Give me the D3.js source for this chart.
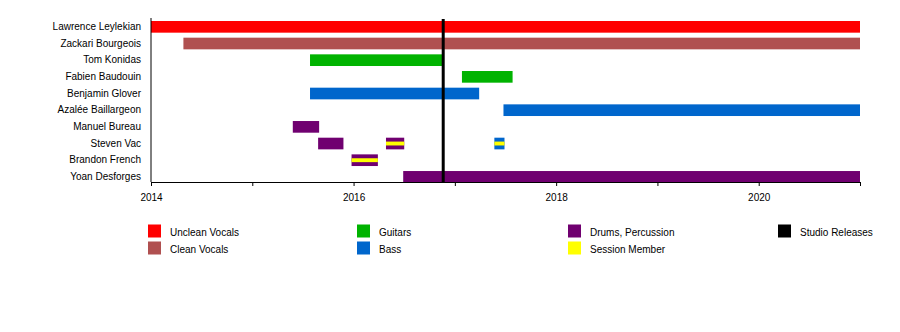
<!DOCTYPE html>
<html>
<head>
<meta charset="utf-8">
<script src="https://cdn.jsdelivr.net/npm/d3@7"></script>
<style>
  html, body { margin: 0; padding: 0; background: #fff; }
  svg { display: block; font-family: "Liberation Sans", Arial, sans-serif; }
</style>
</head>
<body>
<svg id="chart" width="900" height="332"></svg>
<script>
// Band members, top to bottom
const members = [
  "Lawrence Leylekian", "Zackari Bourgeois", "Tom Konidas", "Fabien Baudouin",
  "Benjamin Glover", "Azalée Baillargeon", "Manuel Bureau", "Steven Vac",
  "Brandon French", "Yoan Desforges"
];

// Roles and their colours
const roles = ["Unclean Vocals", "Clean Vocals", "Guitars", "Bass", "Drums, Percussion", "Session Member"];
const roleColors = ["#ff0000", "#b05050", "#00b300", "#0066cc", "#700070", "#ffff00"];

// Membership periods: [member, role, start, end, session]
const periods = [
  ["Lawrence Leylekian", "Unclean Vocals", 2014.0, 2021.0, false],
  ["Zackari Bourgeois", "Clean Vocals", 2014.32, 2021.0, false],
  ["Tom Konidas", "Guitars", 2015.57, 2016.89, false],
  ["Fabien Baudouin", "Guitars", 2017.07, 2017.57, false],
  ["Benjamin Glover", "Bass", 2015.57, 2017.24, false],
  ["Azalée Baillargeon", "Bass", 2017.48, 2021.0, false],
  ["Manuel Bureau", "Drums, Percussion", 2015.40, 2015.66, false],
  ["Steven Vac", "Drums, Percussion", 2015.65, 2015.90, false],
  ["Steven Vac", "Drums, Percussion", 2016.32, 2016.50, true],
  ["Steven Vac", "Bass", 2017.39, 2017.49, true],
  ["Brandon French", "Drums, Percussion", 2015.98, 2016.24, true],
  ["Yoan Desforges", "Drums, Percussion", 2016.49, 2021.0, false]
];

// Studio album release dates
const releases = [2016.885];

// Axis ticks
const yearTicks = [2014, 2015, 2016, 2017, 2018, 2019, 2020, 2021];
const yearLabels = [2014, 2016, 2018, 2020];

// Legend layout: columns of entries
const legendColumns = [
  [["Unclean Vocals", "#ff0000"], ["Clean Vocals", "#b05050"]],
  [["Guitars", "#00b300"], ["Bass", "#0066cc"]],
  [["Drums, Percussion", "#700070"], ["Session Member", "#ffff00"]],
  [["Studio Releases", "#000000"]]
];

const svg = d3.select("#chart");
const color = d3.scaleOrdinal().domain(roles).range(roleColors);

const x = d3.scaleLinear().domain([2014, 2021]).range([151, 860]);
const y = d3.scaleBand().domain(members).range([18.5, 185.2]).paddingInner(0.3).paddingOuter(0.15);

// Bars
const g = svg.append("g");
periods.forEach(([m, role, s, e, session]) => {
  g.append("rect")
    .attr("x", x(s)).attr("y", y(m))
    .attr("width", x(e) - x(s)).attr("height", y.bandwidth())
    .attr("fill", color(role));
  if (session) {
    const h = y.bandwidth() / 3;
    g.append("rect")
      .attr("x", x(s)).attr("y", y(m) + (y.bandwidth() - h) / 2)
      .attr("width", x(e) - x(s)).attr("height", h)
      .attr("fill", color("Session Member"));
  }
});

// Release lines
svg.selectAll("line.release").data(releases).join("line")
  .attr("class", "release")
  .attr("x1", d => x(d)).attr("x2", d => x(d))
  .attr("y1", 19).attr("y2", 182)
  .attr("stroke", "#000").attr("stroke-width", 3);

// Left axis with member names
const yAxis = svg.append("g").attr("transform", "translate(151,0)")
  .call(d3.axisLeft(y).tickSize(0).tickPadding(10));
yAxis.select(".domain").attr("d", "M0,18V182").attr("stroke", "#000");
yAxis.selectAll("text").attr("font-size", 10).attr("fill", "#000")
  .attr("font-family", "Liberation Sans, Arial, sans-serif");

// Bottom axis with years
const xAxis = svg.append("g").attr("transform", "translate(0,182)")
  .call(d3.axisBottom(x).tickValues(yearTicks).tickSize(4).tickSizeOuter(0)
    .tickFormat(d => yearLabels.includes(d) ? d3.format("d")(d) : ""));
xAxis.select(".domain").attr("stroke", "#000");
xAxis.selectAll("text").attr("font-size", 10).attr("fill", "#000").attr("dy", "1.2em")
  .attr("font-family", "Liberation Sans, Arial, sans-serif");

// Legend
const colX = [148, 357, 568, 778];
legendColumns.forEach((col, ci) => {
  col.forEach(([label, c], ri) => {
    const ly = 224.5 + ri * 17;
    svg.append("rect").attr("x", colX[ci]).attr("y", ly)
      .attr("width", 13).attr("height", 13).attr("fill", c);
    svg.append("text").attr("x", colX[ci] + 22).attr("y", ly + 7.5)
      .attr("dominant-baseline", "central")
      .attr("font-size", 10).attr("fill", "#000").text(label);
  });
});
</script>
</body>
</html>
